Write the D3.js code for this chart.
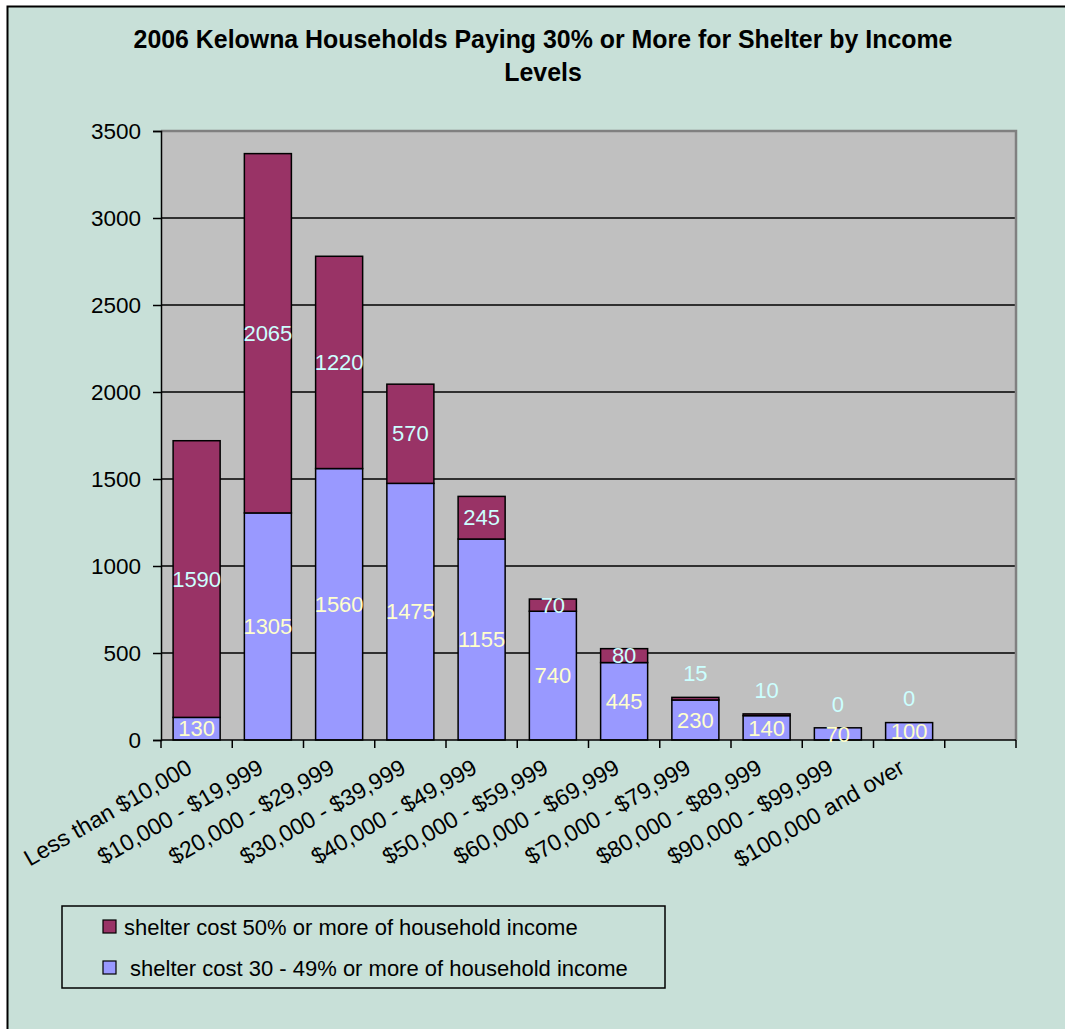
<!DOCTYPE html>
<html>
<head>
<meta charset="utf-8">
<script src="https://cdn.jsdelivr.net/npm/d3@7"></script>
<style>
  html, body { margin: 0; padding: 0; background: #ffffff; }
  svg { display: block; font-family: "Liberation Sans", Arial, sans-serif; }
</style>
</head>
<body>
<svg id="chart" width="1065" height="1029"></svg>
<script>
// ---- data ----
const titleLines = ["2006 Kelowna Households Paying 30% or More for Shelter by Income", "Levels"];
const categories = ["Less than $10,000", "$10,000 - $19,999", "$20,000 - $29,999", "$30,000 - $39,999",
  "$40,000 - $49,999", "$50,000 - $59,999", "$60,000 - $69,999", "$70,000 - $79,999",
  "$80,000 - $89,999", "$90,000 - $99,999", "$100,000 and over"];
const share30to49 = [130, 1305, 1560, 1475, 1155, 740, 445, 230, 140, 70, 100];
const share50plus = [1590, 2065, 1220, 570, 245, 70, 80, 15, 10, 0, 0];
const seriesNames = ["shelter cost 50% or more of household income", " shelter cost 30 - 49% or more of household income"];
const yTicks = [0, 500, 1000, 1500, 2000, 2500, 3000, 3500];

// ---- style ----
const bg = "#C8E0D8", plotBg = "#C0C0C0";
const colUpper = "#993366", colLower = "#9999FF";
const lblUpper = "#CCFFFF", lblLower = "#FFFFCC";

const svg = d3.select("#chart");

// outer frame
svg.append("rect").attr("x", 7.5).attr("y", 6.5).attr("width", 1100).attr("height", 1100)
  .attr("fill", bg).attr("stroke", "#000").attr("stroke-width", 2);

// title
svg.append("g").selectAll("text").data(titleLines).join("text")
  .attr("x", 543).attr("y", (d, i) => 48 + i * 33)
  .attr("text-anchor", "middle").attr("font-weight", "bold").attr("font-size", 24.9)
  .attr("fill", "#000").text(d => d);

// scales
const plot = { left: 161, right: 1016, top: 131, bottom: 740 };
const slots = categories.concat([" "]); // one empty slot at the end of the axis
const x = d3.scaleBand().domain(slots).range([plot.left, plot.right]).paddingInner(0.34).paddingOuter(0.17);
const y = d3.scaleLinear().domain([0, 3500]).range([plot.bottom, plot.top]);

// plot background
svg.append("rect").attr("x", plot.left).attr("y", plot.top)
  .attr("width", plot.right - plot.left).attr("height", plot.bottom - plot.top).attr("fill", plotBg);

// gridlines
svg.append("g").selectAll("line").data(yTicks.filter(t => t > 0 && t < 3500)).join("line")
  .attr("x1", plot.left).attr("x2", plot.right).attr("y1", d => y(d)).attr("y2", d => y(d))
  .attr("stroke", "#000").attr("stroke-width", 1.5);

// plot border top/right (gray)
svg.append("path").attr("d", `M${plot.left},${plot.top}H${plot.right}V${plot.bottom}`)
  .attr("fill", "none").attr("stroke", "#808080").attr("stroke-width", 2.5);

// stacked bars
const rows = categories.map((c, i) => ({ cat: c, lower: share30to49[i], upper: share50plus[i] }));
const gBars = svg.append("g");
gBars.selectAll("rect.lower").data(rows).join("rect").attr("class", "lower")
  .attr("x", d => x(d.cat)).attr("width", x.bandwidth())
  .attr("y", d => y(d.lower)).attr("height", d => y(0) - y(d.lower))
  .attr("fill", colLower).attr("stroke", "#000").attr("stroke-width", 1.5);
gBars.selectAll("rect.upper").data(rows.filter(d => d.upper > 0)).join("rect").attr("class", "upper")
  .attr("x", d => x(d.cat)).attr("width", x.bandwidth())
  .attr("y", d => y(d.lower + d.upper)).attr("height", d => y(d.lower) - y(d.lower + d.upper))
  .attr("fill", colUpper).attr("stroke", "#000").attr("stroke-width", 1.5);

// y axis
const yAxis = svg.append("g").attr("transform", `translate(${plot.left},0)`)
  .call(d3.axisLeft(y).tickValues(yTicks).tickSize(8).tickPadding(12).tickFormat(d3.format("d")));
yAxis.select(".domain").attr("stroke", "#000").attr("stroke-width", 1.5);
yAxis.selectAll(".tick line").attr("stroke", "#000").attr("stroke-width", 1.5);
yAxis.selectAll(".tick text").attr("font-size", 22.5).attr("font-family", "Liberation Sans, Arial, sans-serif").attr("fill", "#000");

// x axis line and ticks at slot boundaries
const step = x.step();
const gx = svg.append("g");
gx.append("line").attr("x1", plot.left).attr("x2", plot.right).attr("y1", plot.bottom).attr("y2", plot.bottom)
  .attr("stroke", "#000").attr("stroke-width", 1.5);
gx.selectAll("line.tk").data(d3.range(slots.length + 1)).join("line").attr("class", "tk")
  .attr("x1", i => plot.left + i * step).attr("x2", i => plot.left + i * step)
  .attr("y1", plot.bottom).attr("y2", plot.bottom + 8).attr("stroke", "#000").attr("stroke-width", 1.5);
gx.selectAll("text").data(categories).join("text")
  .attr("transform", d => `translate(${x(d) + x.bandwidth() / 2 - 3},772) rotate(-30)`)
  .attr("text-anchor", "end").attr("font-size", 23).attr("fill", "#000").text(d => d);

// data labels
const gLbl = svg.append("g").attr("font-size", 22).attr("text-anchor", "middle");
gLbl.selectAll("text.lower").data(rows).join("text").attr("class", "lower")
  .attr("x", d => x(d.cat) + x.bandwidth() / 2).attr("y", d => y(d.lower / 2))
  .attr("dy", "0.35em").attr("fill", lblLower).text(d => d.lower);
gLbl.selectAll("text.upper").data(rows).join("text").attr("class", "upper")
  .attr("x", d => x(d.cat) + x.bandwidth() / 2)
  .attr("y", d => d.upper >= 50 ? y(d.lower + d.upper / 2) : y(d.lower + d.upper) - 24)
  .attr("dy", "0.35em").attr("fill", lblUpper).text(d => d.upper);

// legend
const lg = svg.append("g");
lg.append("rect").attr("x", 62).attr("y", 906).attr("width", 603).attr("height", 82)
  .attr("fill", "none").attr("stroke", "#000").attr("stroke-width", 1.5);
const legendItems = [{ name: seriesNames[0], color: colUpper }, { name: seriesNames[1], color: colLower }];
lg.selectAll("rect.sw").data(legendItems).join("rect").attr("class", "sw")
  .attr("x", 103).attr("y", (d, i) => 920 + i * 41).attr("width", 13).attr("height", 13)
  .attr("fill", d => d.color).attr("stroke", "#000").attr("stroke-width", 1.2);
lg.selectAll("text").data(legendItems).join("text")
  .attr("x", 124).attr("y", (d, i) => 935 + i * 41).attr("font-size", 22).attr("fill", "#000")
  .attr("xml:space", "preserve").style("white-space", "pre").text(d => d.name);
</script>
</body>
</html>
